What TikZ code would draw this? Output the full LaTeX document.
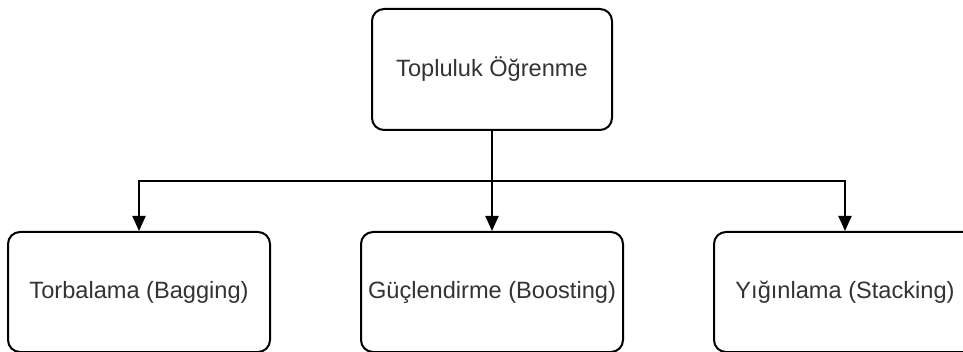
\documentclass[tikz,border=0pt]{standalone}
\usepackage{fontspec}
\setmainfont{Liberation Sans}
\usetikzlibrary{arrows.meta,positioning,calc}
\definecolor{boxline}{HTML}{000000}
\definecolor{boxtext}{HTML}{333333}

\begin{document}
\begin{tikzpicture}[
			x=0.5pt,y=-0.5pt,
			node distance=50pt and 44.5pt,
			kutu/.style={draw=boxline,line width=1pt,fill=white,rounded corners=6pt,minimum height=60pt,minimum width=131pt,align=center,text=boxtext,font=\fontsize{11.8}{14}\selectfont},
			arr/.style={-{Triangle[length=7.5pt,width=6.5pt]},line width=1pt,boxline}
			]
			\clip (0,0) rectangle (963,352);
			\node[kutu,minimum width=120pt,minimum height=60.5pt] (top) at (492,69.5) {Topluluk Öğrenme};
			\node[kutu] (gucl) [below=of top] {Güçlendirme (Boosting)};
			\node[kutu] (torb) [left=of gucl] {Torbalama (Bagging)};
			\node[kutu] (yigi) [right=of gucl] {Yığınlama (Stacking)};
			\coordinate (ayrim) at ($(top.south)!0.5!(gucl.north)$);
			\draw[arr] (top)--(gucl);
			\draw[arr] (ayrim)-|(torb);
			\draw[arr] (ayrim)-|(yigi);
		\end{tikzpicture}
\end{document}
